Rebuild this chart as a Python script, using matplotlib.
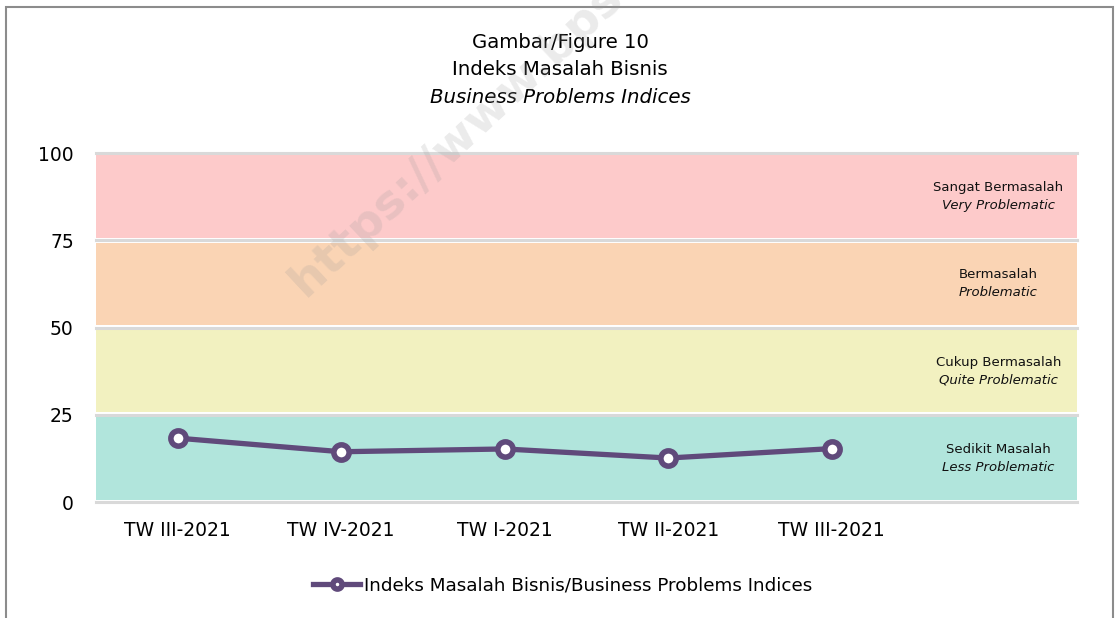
import matplotlib
matplotlib.use("Agg")
import matplotlib.pyplot as plt
from matplotlib.patches import Rectangle

# data
periods = ["TW III-2021", "TW IV-2021", "TW I-2021", "TW II-2021", "TW III-2021", ""]
index_vals = [18.3, 14.4, 15.2, 12.6, 15.3]

band_edges = [0, 25, 50, 75, 100]
band_colors = ["#b1e5dc", "#f2f1c0", "#fad4b4", "#fdcaca"]
band_names = ["Sedikit Masalah", "Cukup Bermasalah", "Bermasalah", "Sangat Bermasalah"]
band_names_en = ["Less Problematic", "Quite Problematic", "Problematic", "Very Problematic"]

purple = "#604a7b"

fig = plt.figure(figsize=(11.16, 6.18), dpi=100)
ax = fig.add_axes([0.086, 0.1877, 0.879, 0.5647])

x = list(range(len(periods)))
ax.set_xlim(-0.5, len(periods) - 0.5)
ax.set_ylim(0, 100)

# coloured bands with white gaps and grey lines
for i in range(4):
    lo, hi = band_edges[i], band_edges[i + 1]
    ax.axhspan(lo + 0.7, hi - 0.7, color=band_colors[i], lw=0, zorder=1)
    mid = (lo + hi) / 2
    ax.text(x[-1] + 0.02, mid + 2.6, band_names[i], ha="center", va="center",
            fontsize=9.5, color="#111111", zorder=3)
    ax.text(x[-1] + 0.02, mid - 2.6, band_names_en[i], ha="center", va="center",
            fontsize=9.5, style="italic", color="#111111", zorder=3)
for e in band_edges:
    ax.axhline(e, color="#d9d9d9", lw=2.2, zorder=2, clip_on=False)

ax.plot(x[:len(index_vals)], index_vals, color=purple, lw=3.8, marker="o",
        ms=11, mew=4, mfc="white", mec=purple, zorder=5,
        label="Indeks Masalah Bisnis/Business Problems Indices")

ax.set_xticks(x)
ax.set_xticklabels(periods, fontsize=13.5)
ax.set_yticks(band_edges)
ax.tick_params(axis="y", labelsize=13.5, length=0, pad=16)
ax.tick_params(axis="x", length=0, pad=14)
for s in ax.spines.values():
    s.set_visible(False)

fig.text(0.502, 0.932, "Gambar/Figure 10", ha="center", va="center", fontsize=14.2)
fig.text(0.502, 0.887, "Indeks Masalah Bisnis", ha="center", va="center", fontsize=14.2)
fig.text(0.502, 0.842, "Business Problems Indices", ha="center", va="center",
         fontsize=14.2, style="italic")

fig.legend(loc="center", bbox_to_anchor=(0.504, 0.052), frameon=False, fontsize=13.2,
           handlelength=2.6, handletextpad=0.2, markerscale=0.6)

# watermark
fig.text(305 / 1116, 1 - 298 / 618, "https://www.bps.go.id", rotation=43,
         rotation_mode="anchor", ha="left", va="baseline", fontsize=34,
         fontweight="bold", color="#9a9a9a", alpha=0.2, zorder=10)

# outer frame
fig.patches.append(Rectangle((6 / 1116, -0.05), 1107 / 1116, 1.05 - 7 / 618,
                             transform=fig.transFigure, fill=False,
                             edgecolor="#8c8c8c", lw=1.5))

fig.savefig("out.png", dpi=100)
